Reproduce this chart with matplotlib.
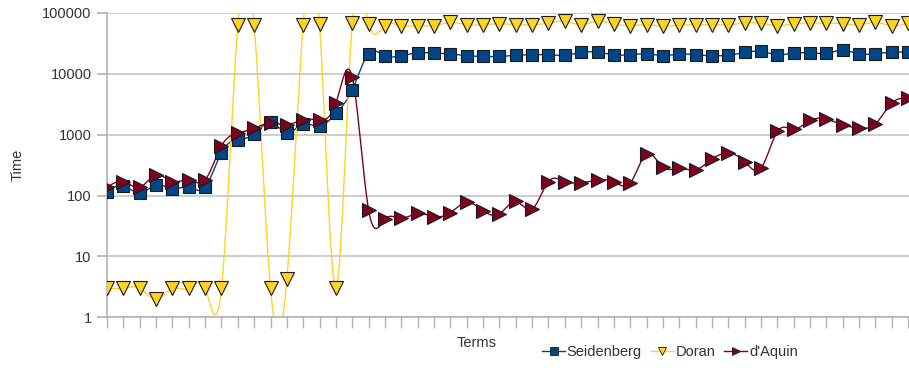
import numpy as np
import matplotlib
matplotlib.use('Agg')
import matplotlib.pyplot as plt
from matplotlib.lines import Line2D

# 数据
seidenberg = [116, 146, 109, 150, 130, 137, 137, 510, 830, 1020,
              1610, 1070, 1510, 1365, 2260, 5430, 21400, 19900, 19900, 22000,
              22000, 21200, 19900, 19300, 19300, 20200, 20600, 20600, 20200, 22500,
              22700, 20600, 20600, 21400, 19900, 21200, 20600, 19900, 20200, 22500,
              23400, 20600, 22000, 22000, 22000, 24300, 21400, 21400, 22700, 22700]

doran = [3, 3, 3, 2, 3, 3, 3, 3, 64200, 64200,
         3, 4.2, 64200, 66700, 3, 68500, 66700, 61800, 61800, 61800,
         61800, 70000, 64200, 64200, 66700, 64200, 64200, 68400, 72700, 64200,
         72700, 66700, 61800, 64200, 60300, 64200, 64200, 64200, 64200, 68400,
         68400, 61800, 66700, 68400, 68400, 66700, 64200, 70000, 61800, 68400]

daquin = [137, 170, 137, 219, 170, 181, 181, 656, 1060, 1280,
          1550, 1455, 1760, 1760, 3310, 8850, 58, 41, 42.5, 51,
          45, 52.5, 77, 56.6, 50, 80, 60, 170, 170, 164,
          177, 170, 160, 485, 293, 282, 265, 397, 498, 362,
          282, 1130, 1236, 1713, 1806, 1455, 1284, 1510, 3310, 4000]

series_names = ['Seidenberg', 'Doran', "d'Aquin"]
y_ticks = [1, 10, 100, 1000, 10000, 100000]


def natural_spline(y, n_dense=20):
    """自然三次样条（在对数空间中计算），返回稠密的x和y"""
    y = np.asarray(y, dtype=float)
    n = len(y)
    x = np.arange(n, dtype=float)
    # 解三对角方程求二阶导数
    A = np.zeros((n, n))
    b = np.zeros(n)
    A[0, 0] = 1
    A[-1, -1] = 1
    for i in range(1, n - 1):
        A[i, i - 1] = 1
        A[i, i] = 4
        A[i, i + 1] = 1
        b[i] = 6 * (y[i + 1] - 2 * y[i] + y[i - 1])
    M = np.linalg.solve(A, b)

    xs = []
    ys = []
    for i in range(n - 1):
        t = np.linspace(0, 1, n_dense, endpoint=False)
        a = y[i]
        c = y[i + 1]
        yy = (1 - t) * a + t * c + ((1 - t) ** 3 - (1 - t)) * M[i] / 6 + (t ** 3 - t) * M[i + 1] / 6
        xs.append(x[i] + t)
        ys.append(yy)
    xs.append([x[-1]])
    ys.append([y[-1]])
    return np.concatenate(xs), np.concatenate(ys)


plt.rcParams['font.family'] = ['Liberation Sans', 'DejaVu Sans']

fig = plt.figure(figsize=(9.09, 3.68), dpi=100)
ax = fig.add_axes([107 / 909, 1 - 317.3 / 368, 802 / 909, (317.3 - 13) / 368])

styles = [
    dict(color='#004586', marker='s', ms=8.5),
    dict(color='#ffd320', marker='v', ms=9.5),
    dict(color='#7e0021', marker='>', ms=9.5),
]

handles = []
for name, data, st in zip(series_names, [seidenberg, doran, daquin], styles):
    xs, ys = natural_spline(np.log10(data))
    ax.plot(xs, 10 ** ys, color=st['color'], lw=1.0, zorder=2)
    ax.plot(np.arange(len(data)), data, ls='none', marker=st['marker'], ms=st['ms'],
            mfc=st['color'], mec='#1a1a1a', mew=0.8, zorder=3)
    handles.append(Line2D([], [], color=st['color'], lw=1.0, marker=st['marker'], ms=6,
                          mfc=st['color'], mec='#1a1a1a', mew=0.6))

ax.set_yscale('log')
ax.set_ylim(1, 100000)
ax.set_xlim(0, 49.05)
ax.set_yticks(y_ticks)
ax.set_yticklabels([str(v) for v in y_ticks])
ax.yaxis.set_minor_locator(matplotlib.ticker.NullLocator())
ax.set_xticks(np.arange(0, 50))
ax.set_xticklabels([])
ax.tick_params(axis='x', length=8, color='#b3b3b3', width=1, direction='out')
ax.tick_params(axis='y', length=7, color='#b3b3b3', width=1.2, labelsize=10.5,
               labelcolor='#333333', pad=4)
ax.grid(axis='y', color='#c8c8c8', lw=1.3)
ax.set_axisbelow(True)

for s in ['top', 'right']:
    ax.spines[s].set_visible(False)
ax.spines['left'].set_color('#b3b3b3')
ax.spines['bottom'].set_color('#b3b3b3')
ax.spines['left'].set_linewidth(1.2)
ax.spines['bottom'].set_linewidth(1.2)

fig.text(18 / 909, 1 - 165 / 368, 'Time', rotation=90, ha='center', va='center',
         fontsize=10.5, color='#333333')
fig.text(477 / 909, 1 - 343 / 368, 'Terms', ha='center', va='center',
         fontsize=10.5, color='#333333')

fig.legend(handles=handles, labels=series_names, loc='center left',
           bbox_to_anchor=(542 / 909, 1 - 352 / 368), ncol=3, frameon=False,
           fontsize=10.5, handlelength=1.6, handletextpad=0.1, columnspacing=0.6,
           borderaxespad=0, borderpad=0, labelcolor='#333333')

fig.savefig('out.png', dpi=100)
